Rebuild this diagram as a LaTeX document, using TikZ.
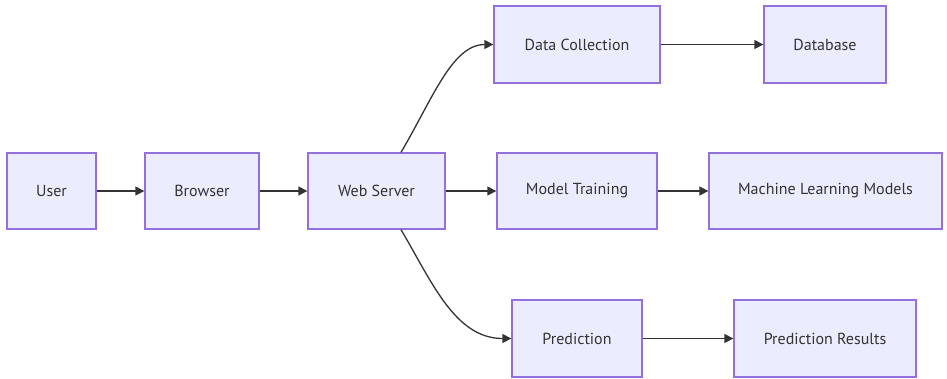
\documentclass[tikz,border=0pt]{standalone}
\usepackage{fontspec}
\setmainfont{PT Sans}
\usetikzlibrary{arrows.meta}
\definecolor{boxfill}{HTML}{ECECFF}
\definecolor{boxline}{HTML}{9370DB}
\definecolor{txt}{HTML}{333333}
\definecolor{edge}{HTML}{333333}
\tikzset{
  box/.style={draw=boxline, fill=boxfill, line width=1.3pt, text=txt, font=\fontsize{16}{18}\selectfont, inner sep=0pt, anchor=center},
  conn/.style={draw=edge, line width=1.3pt, -{Triangle[length=9pt,width=9pt]}}
}
\begin{document}
\begin{tikzpicture}[x=1pt,y=-1pt]
\useasboundingbox (0,0) rectangle (947,378);
\node[box, minimum width=89pt, minimum height=76pt] (user) at (51.5,191) {User};
\node[box, minimum width=114pt, minimum height=76pt] (browser) at (202,191) {Browser};
\node[box, minimum width=137pt, minimum height=76pt] (ws) at (376.5,191) {Web Server};
\node[box, minimum width=166pt, minimum height=77pt] (dc) at (577,44.5) {Data Collection};
\node[box, minimum width=122pt, minimum height=77pt] (db) at (825,44.5) {Database};
\node[box, minimum width=160pt, minimum height=76pt] (mt) at (577,191) {Model Training};
\node[box, minimum width=233pt, minimum height=76pt] (ml) at (825.5,191) {Machine Learning Models};
\node[box, minimum width=130pt, minimum height=77pt] (pr) at (577,338.5) {Prediction};
\node[box, minimum width=182pt, minimum height=77pt] (prr) at (825,338.5) {Prediction Results};
\coordinate (wstop) at ([xshift=24.5pt]ws.north);
\coordinate (wsbot) at ([xshift=24.5pt]ws.south);
\draw[conn] (user) -- (browser);
\draw[conn] (browser) -- (ws);
\draw[conn] (ws) -- (mt);
\draw[conn] (dc) -- (db);
\draw[conn] (mt) -- (ml);
\draw[conn] (pr) -- (prr);
\draw[conn] (wstop) .. controls (432,100) and (452,44.5) .. (dc.west);
\draw[conn] (wsbot) .. controls (432,282) and (455,338.5) .. (pr.west);
\end{tikzpicture}
\end{document}
